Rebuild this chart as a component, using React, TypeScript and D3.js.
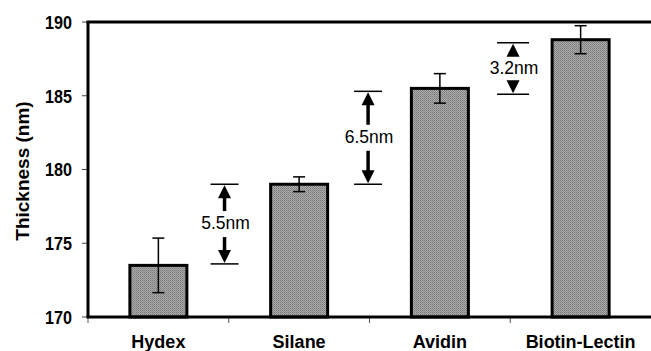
import { useEffect, useRef } from 'react'
import * as d3 from 'd3'

const categories = ['Hydex', 'Silane', 'Avidin', 'Biotin-Lectin']
const thickness = [173.5, 179.0, 185.5, 188.8]
const errors = [1.85, 0.5, 1.0, 0.95]
const yTicks = [170, 175, 180, 185, 190]

// step annotations drawn in the gap after category i
const stepLabels = ['5.5nm', '6.5nm', '3.2nm']
const stepLow = [173.6, 179.0, 185.1]
const stepHigh = [179.0, 185.3, 188.6]
const stepOffsets = [0.47, 0.49, 0.52]

export default function App() {
  const svgRef = useRef<SVGSVGElement>(null)

  useEffect(() => {
    if (!svgRef.current) return
    const svg = d3.select(svgRef.current)
    svg.selectAll('*').remove()

    const margin = { top: 22, right: 0, bottom: 34, left: 88 }
    const W = 651
    const H = 351
    const width = W - margin.left - margin.right
    const height = H - margin.top - margin.bottom
    const font = 'Arial, "Liberation Sans", Helvetica, sans-serif'

    const defs = svg.append('defs')
    const pat = defs.append('pattern')
      .attr('id', 'hatch')
      .attr('patternUnits', 'userSpaceOnUse')
      .attr('width', 2)
      .attr('height', 2)
    pat.append('rect').attr('width', 2).attr('height', 2).attr('fill', '#a9a9a9')
    pat.append('rect').attr('x', 0).attr('y', 0).attr('width', 1).attr('height', 1).attr('fill', '#7c7c7c')
    pat.append('rect').attr('x', 1).attr('y', 1).attr('width', 1).attr('height', 1).attr('fill', '#8c8c8c')

    const g = svg.append('g').attr('transform', `translate(${margin.left},${margin.top})`)

    const x = d3.scaleBand().domain(categories).range([0, width]).paddingInner(0).paddingOuter(0)
    const y = d3.scaleLinear().domain([170, 190]).range([height, 0])
    const barW = 57

    // y ticks
    yTicks.forEach(t => {
      g.append('line')
        .attr('x1', -6).attr('x2', 0)
        .attr('y1', y(t)).attr('y2', y(t))
        .attr('stroke', '#444').attr('stroke-width', 1)
      g.append('text')
        .attr('x', -16).attr('y', y(t))
        .attr('dy', '0.36em')
        .attr('text-anchor', 'end')
        .attr('textLength', 27)
        .attr('lengthAdjust', 'spacingAndGlyphs')
        .style('font-family', font)
        .style('font-size', '19px')
        .style('font-weight', 'bold')
        .text(t)
    })

    // x ticks at band edges
    categories.forEach((c, i) => {
      const xx = x(c)!
      g.append('line')
        .attr('x1', xx).attr('x2', xx)
        .attr('y1', height).attr('y2', height + 6)
        .attr('stroke', '#555').attr('stroke-width', 1)
    })

    // bars
    categories.forEach((c, i) => {
      const cx = x(c)! + x.bandwidth() / 2
      g.append('rect')
        .attr('x', cx - barW / 2)
        .attr('y', y(thickness[i]))
        .attr('width', barW)
        .attr('height', height - y(thickness[i]))
        .attr('fill', 'url(#hatch)')
        .attr('stroke', '#000')
        .attr('stroke-width', 3)

      const hi = y(thickness[i] + errors[i])
      const lo = y(thickness[i] - errors[i])
      g.append('line')
        .attr('x1', cx).attr('x2', cx).attr('y1', hi).attr('y2', lo)
        .attr('stroke', '#000').attr('stroke-width', 1.5)
      ;[hi, lo].forEach(yy => {
        g.append('line')
          .attr('x1', cx - 6).attr('x2', cx + 6).attr('y1', yy).attr('y2', yy)
          .attr('stroke', '#000').attr('stroke-width', 1.5)
      })

      g.append('text')
        .attr('x', cx).attr('y', height + 31)
        .attr('text-anchor', 'middle')
        .style('font-family', font)
        .style('font-size', '18px')
        .style('font-weight', 'bold')
        .text(c)
    })

    // frame: left, top, bottom
    g.append('line').attr('x1', 0).attr('x2', 0).attr('y1', 0).attr('y2', height)
      .attr('stroke', '#000').attr('stroke-width', 3)
    g.append('line').attr('x1', -1.5).attr('x2', width).attr('y1', 0).attr('y2', 0)
      .attr('stroke', '#000').attr('stroke-width', 3)
    g.append('line').attr('x1', -1.5).attr('x2', width).attr('y1', height).attr('y2', height)
      .attr('stroke', '#000').attr('stroke-width', 3)

    // step annotations
    stepLabels.forEach((label, i) => {
      const ax = x(categories[i])! + x.bandwidth() * (0.5 + stepOffsets[i])
      const yTop = y(stepHigh[i])
      const yBot = y(stepLow[i])
      const half = i === 2 ? 16 : 14
      ;[yTop, yBot].forEach(yy => {
        g.append('line')
          .attr('x1', ax - half).attr('x2', ax + half).attr('y1', yy).attr('y2', yy)
          .attr('stroke', '#000').attr('stroke-width', 1.5)
      })
      const mid = (yTop + yBot) / 2
      const gap = 13
      const ah = 13
      const aw = 6.5
      // up arrow
      if (mid - gap > yTop + ah) {
        g.append('line')
          .attr('x1', ax).attr('x2', ax).attr('y1', yTop + ah - 1).attr('y2', mid - gap)
          .attr('stroke', '#000').attr('stroke-width', 3.5)
      }
      g.append('path')
        .attr('d', `M${ax},${yTop + 1} L${ax - aw},${yTop + ah + 1} L${ax + aw},${yTop + ah + 1} Z`)
        .attr('fill', '#000')
      // down arrow
      if (mid + gap < yBot - ah) {
        g.append('line')
          .attr('x1', ax).attr('x2', ax).attr('y1', mid + gap).attr('y2', yBot - ah + 1)
          .attr('stroke', '#000').attr('stroke-width', 3.5)
      }
      g.append('path')
        .attr('d', `M${ax},${yBot - 1} L${ax - aw},${yBot - ah - 1} L${ax + aw},${yBot - ah - 1} Z`)
        .attr('fill', '#000')
      g.append('text')
        .attr('x', ax + 1).attr('y', mid - 1)
        .attr('dy', '0.36em')
        .attr('text-anchor', 'middle')
        .style('font-family', font)
        .style('font-size', '17.5px')
        .text(label)
    })

    // y axis title
    svg.append('text')
      .attr('transform', `translate(29, ${margin.top + 149}) rotate(-90)`)
      .attr('text-anchor', 'middle')
      .style('font-family', font)
      .style('font-size', '19px')
      .style('font-weight', 'bold')
      .text('Thickness (nm)')
  }, [])

  return (
    <svg
      ref={svgRef}
      width={651}
      height={351}
      style={{ position: 'absolute', left: 0, top: 0, background: '#fff' }}
    />
  )
}
